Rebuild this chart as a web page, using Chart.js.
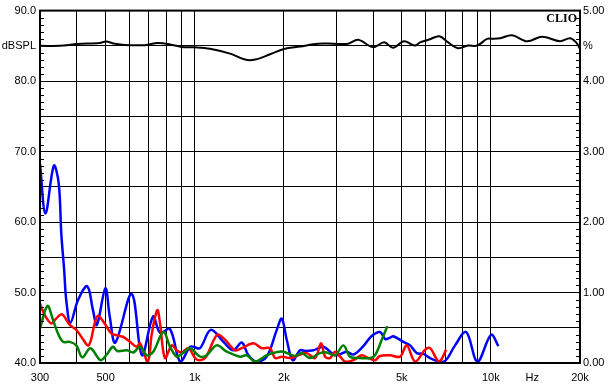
<!DOCTYPE html>
<html>
<head>
<meta charset="utf-8">
<script src="https://cdn.jsdelivr.net/npm/chart.js@4.4.1/dist/chart.umd.min.js"></script>
<style>
  html, body { margin: 0; padding: 0; background: #fff; }
  #wrap { width: 610px; height: 390px; }
</style>
</head>
<body>
<div id="wrap"><canvas id="clioChart" width="610" height="390"></canvas></div>
<script>
// Frequency axis ticks (Hz) and their labels
const xTicks = [300, 400, 500, 600, 700, 800, 900, 1000, 2000, 3000, 4000, 5000, 6000, 7000, 8000, 9000, 10000, 13800, 20000];
const xTickLabels = ['300', '', '500', '', '', '', '', '1k', '2k', '', '', '5k', '', '', '', '', '10k', 'Hz', '20k'];

// SPL response (dBSPL, left axis)
const splFreq = [300, 350, 400, 478, 501, 538, 600, 679, 751, 825, 900, 1000, 1125, 1315, 1478, 1598, 1796, 2000, 2268, 2608, 2930, 3295, 3562, 4000, 4360, 4675, 5090, 5530, 5766, 6186, 6700, 7170, 7752, 8376, 9000, 9710, 10150, 10740, 11800, 13260, 14900, 17130, 18500, 19400, 20000];
const splValues = [85.0, 85.0, 85.25, 85.4, 85.6, 85.3, 85.1, 85.1, 85.4, 85.2, 84.85, 84.8, 84.6, 83.9, 83.05, 83.05, 83.8, 84.55, 84.9, 85.3, 85.3, 85.3, 85.85, 84.8, 85.5, 84.72, 85.65, 85.04, 85.5, 85.9, 86.36, 85.5, 84.66, 85.04, 85.04, 85.99, 85.99, 86.08, 86.5, 85.65, 86.3, 85.65, 86.08, 85.5, 84.58];

// Distortion (%, right axis)
const blueFreq = [300, 313, 334, 347, 354, 362, 368, 380, 403, 433, 453, 467, 499, 516, 539, 612, 663, 723, 763, 825, 892, 964, 989, 1041, 1132, 1249, 1349, 1441, 1517, 1619, 1750, 1892, 1967, 2044, 2142, 2267, 2357, 2514, 2718, 2977, 3260, 3432, 3710, 3950, 4223, 4400, 4565, 4684, 5063, 5335, 5620, 5915, 6233, 6566, 7004, 7569, 8250, 9006, 10020, 10605];
const blueValues = [2.83, 2.12, 2.80, 2.55, 1.84, 1.32, 0.89, 0.57, 0.89, 1.09, 0.75, 0.54, 1.06, 0.66, 0.29, 0.98, 0.11, 0.66, 0.43, 0.48, 0.02, 0.23, 0.23, 0.21, 0.47, 0.30, 0.18, 0.29, 0.11, 0.02, 0.09, 0.47, 0.63, 0.33, 0.04, 0.18, 0.17, 0.18, 0.23, 0.11, 0.16, 0.12, 0.24, 0.38, 0.44, 0.34, 0.36, 0.38, 0.30, 0.25, 0.14, 0.13, 0.07, 0.03, 0.03, 0.25, 0.44, 0.02, 0.40, 0.24];

const redFreq = [300, 313, 328, 340, 356, 378, 398, 414, 438, 459, 471, 496, 522, 550, 573, 604, 637, 653, 694, 716, 747, 763, 793, 836, 869, 903, 951, 1015, 1083, 1190, 1265, 1367, 1441, 1577, 1683, 1795, 1867, 1967, 2098, 2237, 2389, 2548, 2670, 2754, 2863, 2977, 3095, 3218, 3432, 3664, 3857, 4063, 4223, 4565, 4934, 5199, 5546, 6000, 6233, 6649, 6827, 7059];
const redValues = [0.84, 0.66, 0.56, 0.63, 0.69, 0.54, 0.47, 0.37, 0.25, 0.56, 0.67, 0.56, 0.42, 0.39, 0.37, 0.30, 0.23, 0.28, 0.02, 0.42, 0.75, 0.56, 0.07, 0.25, 0.18, 0.15, 0.21, 0.05, 0.07, 0.40, 0.33, 0.18, 0.21, 0.28, 0.21, 0.21, 0.07, 0.09, 0.07, 0.11, 0.14, 0.07, 0.28, 0.09, 0.07, 0.16, 0.09, 0.02, 0.04, 0.11, 0.07, 0.04, 0.10, 0.11, 0.09, 0.25, 0.02, 0.19, 0.21, 0.02, 0.06, 0.19];

const greenFreq = [300, 318, 332, 345, 359, 378, 398, 417, 444, 480, 502, 529, 547, 589, 620, 653, 688, 724, 783, 825, 869, 903, 964, 1041, 1097, 1186, 1282, 1422, 1498, 1598, 1750, 1867, 1991, 2181, 2297, 2451, 2649, 2791, 2977, 3176, 3345, 3616, 3908, 4063, 4280, 4470];
const greenValues = [0.49, 0.81, 0.61, 0.42, 0.30, 0.30, 0.25, 0.08, 0.21, 0.04, 0.11, 0.23, 0.17, 0.18, 0.15, 0.23, 0.11, 0.16, 0.44, 0.23, 0.09, 0.13, 0.21, 0.09, 0.11, 0.25, 0.16, 0.09, 0.11, 0.02, 0.11, 0.15, 0.16, 0.10, 0.14, 0.07, 0.14, 0.15, 0.11, 0.25, 0.09, 0.07, 0.07, 0.11, 0.33, 0.52];

function toPoints(freqs, values) {
    return freqs.map((f, i) => ({ x: f, y: values[i] }));
}

const labelFont = { family: '"Liberation Sans", Arial, sans-serif', size: 11 };

// Frame, minor ticks and the CLIO mark
const clioDecor = {
    id: 'clioDecor',
    afterDraw(chart) {
        const ctx = chart.ctx;
        const area = chart.chartArea;
        const yScale = chart.scales.y;
        ctx.save();
        ctx.strokeStyle = '#000';
        ctx.lineWidth = 1;
        ctx.beginPath();
        for (let v = 41; v < 90; v++) {
            if (v % 5 === 0) continue;
            const py = Math.round(yScale.getPixelForValue(v)) + 0.5;
            ctx.moveTo(area.left, py);
            ctx.lineTo(area.left + 4, py);
            ctx.moveTo(area.right - 4, py);
            ctx.lineTo(area.right, py);
        }
        ctx.stroke();
        ctx.lineWidth = 2;
        ctx.strokeRect(area.left, area.top, area.right - area.left, area.bottom - area.top);
        ctx.fillStyle = '#000';
        ctx.font = 'bold 12px "Liberation Serif", "Times New Roman", serif';
        ctx.textAlign = 'right';
        ctx.textBaseline = 'alphabetic';
        ctx.fillText('CLIO', area.right - 3, area.top + 11);
        ctx.restore();
    }
};

function renderChart() {
    const ctx = document.getElementById('clioChart');
    if (!ctx) return;

    new Chart(ctx.getContext('2d'), {
        type: 'line',
        data: {
            datasets: [
                {
                    label: 'SPL',
                    data: toPoints(splFreq, splValues),
                    yAxisID: 'y',
                    borderColor: '#000000',
                    borderWidth: 2,
                    pointRadius: 0,
                    tension: 0.35
                },
                {
                    label: 'Green',
                    data: toPoints(greenFreq, greenValues),
                    yAxisID: 'y1',
                    borderColor: '#008000',
                    borderWidth: 2.5,
                    pointRadius: 0,
                    tension: 0.35
                },
                {
                    label: 'Red',
                    data: toPoints(redFreq, redValues),
                    yAxisID: 'y1',
                    borderColor: '#ff0000',
                    borderWidth: 2.5,
                    pointRadius: 0,
                    tension: 0.35
                },
                {
                    label: 'Blue',
                    data: toPoints(blueFreq, blueValues),
                    yAxisID: 'y1',
                    borderColor: '#0000ff',
                    borderWidth: 2.5,
                    pointRadius: 0,
                    tension: 0.35
                }
            ]
        },
        options: {
            responsive: false,
            animation: false,
            parsing: false,
            layout: { padding: { top: 10, left: 0, right: 0, bottom: 0 } },
            plugins: {
                legend: { display: false },
                tooltip: { enabled: false }
            },
            scales: {
                x: {
                    type: 'logarithmic',
                    min: 300,
                    max: 20000,
                    afterBuildTicks: function(axis) {
                        axis.ticks = xTicks.map(v => ({ value: v }));
                    },
                    afterFit: function(scale) { scale.height = 27; },
                    border: { display: false },
                    grid: {
                        drawTicks: false,
                        lineWidth: 1,
                        color: function(c) {
                            return c.tick && c.tick.value === 13800 ? 'rgba(0,0,0,0)' : '#000';
                        }
                    },
                    ticks: {
                        autoSkip: false,
                        maxRotation: 0,
                        padding: 8,
                        color: '#000',
                        font: labelFont,
                        callback: function(value) {
                            const i = xTicks.indexOf(value);
                            return i >= 0 ? xTickLabels[i] : '';
                        }
                    }
                },
                y: {
                    position: 'left',
                    min: 40,
                    max: 90,
                    afterFit: function(scale) { scale.width = 40; },
                    border: { display: false },
                    grid: { drawTicks: false, color: '#000', lineWidth: 1 },
                    ticks: {
                        stepSize: 5,
                        autoSkip: false,
                        padding: 4,
                        color: '#000',
                        font: labelFont,
                        callback: function(value) {
                            if (value === 85) return 'dBSPL';
                            return value % 10 === 0 ? value.toFixed(1) : '';
                        }
                    }
                },
                y1: {
                    position: 'right',
                    min: 0,
                    max: 5,
                    afterFit: function(scale) { scale.width = 30; },
                    border: { display: false },
                    grid: { drawOnChartArea: false, drawTicks: false },
                    ticks: {
                        stepSize: 0.5,
                        autoSkip: false,
                        padding: 3,
                        color: '#000',
                        font: labelFont,
                        callback: function(value) {
                            if (Math.abs(value - 4.5) < 1e-6) return '%';
                            return Math.abs(value - Math.round(value)) < 1e-6 ? value.toFixed(2) : '';
                        }
                    }
                }
            }
        },
        plugins: [clioDecor]
    });
}

document.addEventListener('DOMContentLoaded', renderChart);
</script>
</body>
</html>
